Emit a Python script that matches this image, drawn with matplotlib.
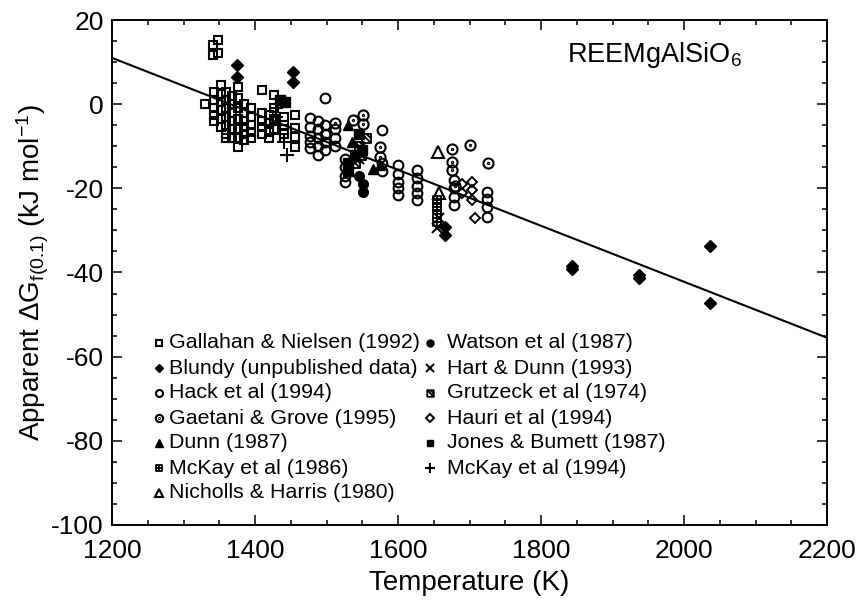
import numpy as np
import matplotlib
matplotlib.use('Agg')
import matplotlib.pyplot as plt
from matplotlib.path import Path
from matplotlib.ticker import MultipleLocator

plt.rcParams['font.family'] = ['Liberation Sans', 'DejaVu Sans']
plt.rcParams['mathtext.fontset'] = 'custom'
plt.rcParams['mathtext.rm'] = 'Liberation Sans'
plt.rcParams['mathtext.it'] = 'Liberation Sans:italic'
plt.rcParams['mathtext.default'] = 'regular'
plt.rcParams['axes.unicode_minus'] = False

# ---------------- data ----------------
gal_T = [1330, 1341, 1341, 1348, 1348,
         1343, 1343, 1343, 1343, 1343,
         1352, 1352, 1352, 1352, 1352, 1352,
         1360, 1360, 1360, 1360, 1360, 1360, 1360,
         1368, 1368, 1368, 1368, 1368, 1368,
         1376, 1376, 1376, 1376, 1376, 1376, 1376,
         1385, 1385, 1385, 1385, 1385, 1385,
         1395, 1395, 1395, 1395, 1395,
         1410, 1410, 1410, 1410, 1410,
         1420, 1420, 1420, 1420,
         1427, 1427, 1427, 1427,
         1440, 1440, 1440,
         1456, 1456, 1456, 1456]
gal_G = [0, 14.1, 11.7, 15.2, 12.2,
         3, 1, -1, -2.5, -4,
         4.5, 2.5, 0.5, -1.5, -3.5, -5.5,
         3, 1, -1, -3, -5, -7, -8,
         2, 0, -2, -4, -6, -8,
         4, 1.5, -1, -3.5, -6, -8, -10.2,
         0, -2, -4, -5.5, -7, -8.5,
         -1, -3, -5, -6.5, -8,
         3.4, -2, -4, -5.5, -7,
         -2.5, -4.5, -6.5, -8,
         2.2, -1, -3.5, -6,
         -3, -5, -7,
         -2.6, -5.7, -7.8, -10.2]

blu_T = [1375, 1375, 1453, 1453, 1666, 1666, 1843, 1843, 1937, 1937, 2036, 2036]
blu_G = [9.3, 6.5, 7.6, 5.3, -29.2, -31.0, -38.5, -39.2, -40.5, -41.3, -33.7, -47.3]

hack_T = [1477, 1477, 1477, 1477, 1477,
          1488, 1488, 1488, 1488, 1488,
          1498, 1498, 1498, 1498, 1498,
          1512, 1512, 1512,
          1526, 1526, 1526, 1526,
          1578, 1578, 1578,
          1600, 1600, 1600, 1600, 1600,
          1627, 1627, 1627, 1627, 1627,
          1679, 1679, 1679, 1679,
          1724, 1724, 1724, 1724]
hack_G = [-3.3, -5.5, -7.5, -9.0, -10.4,
          -4.0, -6.0, -8.0, -10.0, -12.0,
          1.5, -5.0, -7.0, -9.0, -11.0,
          -6.0, -8.0, -10.0,
          -13.0, -15.0, -17.0, -18.5,
          -6.1, -14.0, -16.0,
          -14.5, -16.5, -18.5, -20.0, -21.6,
          -15.6, -17.5, -19.5, -21.0, -22.8,
          -18.0, -20.0, -22.0, -24.0,
          -20.9, -22.5, -24.5, -26.8]

gae_T = [1512, 1537, 1551, 1551, 1575, 1575, 1676, 1676, 1676, 1700, 1726, 1680]
gae_G = [-4.5, -3.8, -2.6, -4.6, -10.2, -12.5, -10.7, -13.7, -15.6, -9.7, -14.0, -19.5]

dunn_T = [1530, 1535, 1565, 1575]
dunn_G = [-5.0, -9.0, -15.5, -14.5]

mck86_T = [1655, 1655, 1655, 1655]
mck86_G = [-22.8, -24.5, -26.2, -28.0]

nich_T = [1656, 1657]
nich_G = [-11.4, -21.0]

wat_T = [1551, 1551, 1545]
wat_G = [-20.9, -19.0, -17.0]

hart_T = [1655, 1658, 1545]
hart_G = [-29.5, -27.0, -13.0]

grut_T = [1545, 1548, 1540, 1555]
grut_G = [-10.0, -12.0, -14.0, -8.0]

hau_T = [1703, 1703, 1703, 1708, 1690, 1690]
hau_G = [-18.5, -20.4, -22.8, -27.0, -21.0, -19.0]

jon_T = [1435, 1442, 1530, 1530, 1540, 1545, 1550]
jon_G = [1.0, 0.5, -14.0, -16.0, -12.0, -7.0, -11.0]

mck94_T = [1430, 1430, 1435, 1435, 1440, 1445, 1425]
mck94_G = [-1.0, -3.0, -5.0, -7.0, -9.0, -12.0, -5.0]

fit_T = [1200, 2200]
fit_G = [11.0, -55.5]

labels = ["Gallahan & Nielsen (1992)", "Blundy (unpublished data)", "Hack et al (1994)",
          "Gaetani & Grove (1995)", "Dunn (1987)", "McKay et al (1986)",
          "Nicholls & Harris (1980)", "Watson et al (1987)", "Hart & Dunn (1993)",
          "Grutzeck et al (1974)", "Hauri et al (1994)", "Jones & Bumett (1987)",
          "McKay et al (1994)"]

# ---------------- custom markers ----------------
M, L, C = Path.MOVETO, Path.LINETO, Path.CLOSEPOLY
sq_plus = Path([(-1, -1), (1, -1), (1, 1), (-1, 1), (-1, -1), (0, -1), (0, 1), (-1, 0), (1, 0)],
               [M, L, L, L, C, M, L, M, L])
sq_diag = Path([(-1, -1), (1, -1), (1, 1), (-1, 1), (-1, -1), (-1, 1), (1, -1), (0, 1), (1, 0)],
               [M, L, L, L, C, M, L, M, L])
circ_dot = Path.make_compound_path(Path.circle((0, 0), 1.0), Path.circle((0, 0), 0.12))

K = 'black'
styles = [
    dict(marker='s', ms=6.0, mfc='none', mec=K, mew=1.5),
    dict(marker='D', ms=6.0, mfc=K, mec=K, mew=1.0),
    dict(marker='o', ms=7.0, mfc='none', mec=K, mew=1.5),
    dict(marker=circ_dot, ms=7.3, mfc='none', mec=K, mew=1.5),
    dict(marker='^', ms=7.5, mfc=K, mec=K, mew=1.0),
    dict(marker=sq_plus, ms=6.0, mfc='none', mec=K, mew=1.3),
    dict(marker='^', ms=8.0, mfc='none', mec=K, mew=1.5),
    dict(marker='o', ms=7.0, mfc=K, mec=K, mew=1.0),
    dict(marker='x', ms=7.5, mfc='none', mec=K, mew=1.5),
    dict(marker=sq_diag, ms=6.5, mfc='none', mec=K, mew=1.3),
    dict(marker='D', ms=5.5, mfc='none', mec=K, mew=1.4),
    dict(marker='s', ms=6.5, mfc=K, mec=K, mew=1.0),
    dict(marker='+', ms=9.5, mfc='none', mec=K, mew=1.5),
]
series = [(gal_T, gal_G), (blu_T, blu_G), (hack_T, hack_G), (gae_T, gae_G),
          (dunn_T, dunn_G), (mck86_T, mck86_G), (nich_T, nich_G), (wat_T, wat_G),
          (hart_T, hart_G), (grut_T, grut_G), (hau_T, hau_G), (jon_T, jon_G),
          (mck94_T, mck94_G)]

# ---------------- figure ----------------
fig = plt.figure(figsize=(8.63, 6.03), dpi=100)
ax = fig.add_axes([112 / 863, 1 - 525 / 603, 715 / 863, 505 / 603])

ax.plot(fit_T, fit_G, color=K, lw=1.5, zorder=2)
for (t, g), st in zip(series, styles):
    ax.plot(t, g, ls='none', zorder=3, **st)

ax.set_xlim(1200, 2200)
ax.set_ylim(-100, 20)
ax.xaxis.set_major_locator(MultipleLocator(200))
ax.xaxis.set_minor_locator(MultipleLocator(50))
ax.yaxis.set_major_locator(MultipleLocator(20))
ax.yaxis.set_minor_locator(MultipleLocator(5))
ax.tick_params(which='both', direction='in', top=True, right=True, width=1.1,
               labelsize=19, pad=6)
ax.tick_params(axis='x', which='both', pad=10)
ax.tick_params(which='major', length=7)
ax.tick_params(which='minor', length=3.5)
for s in ax.spines.values():
    s.set_linewidth(1.4)

ax.set_xlabel('Temperature (K)', fontsize=20, labelpad=5)
ax.set_ylabel(r'Apparent $\Delta$G$_{f(0.1)}$ (kJ mol$^{-1}$)', fontsize=20, labelpad=0)

ax.text(0.636, 0.93, r'REEMgAlSiO$_6$', transform=ax.transAxes, fontsize=19.5,
        ha='left', va='center')

# legend drawn manually (two columns)
leg_scale = 0.72
for i, (lab, st) in enumerate(zip(labels, styles)):
    col, row = divmod(i, 7)
    mx = 0.0657 if col == 0 else 0.445
    tx = 0.080 if col == 0 else 0.469
    y = (525 - 343) / 505 - row * 25 / 505
    st2 = dict(st)
    st2['ms'] = st['ms'] * leg_scale
    ax.plot([mx], [y], transform=ax.transAxes, clip_on=False, ls='none', **st2)
    ax.text(tx, y, lab, transform=ax.transAxes, fontsize=15.4, ha='left', va='center')

fig.savefig('out.png', dpi=100)
